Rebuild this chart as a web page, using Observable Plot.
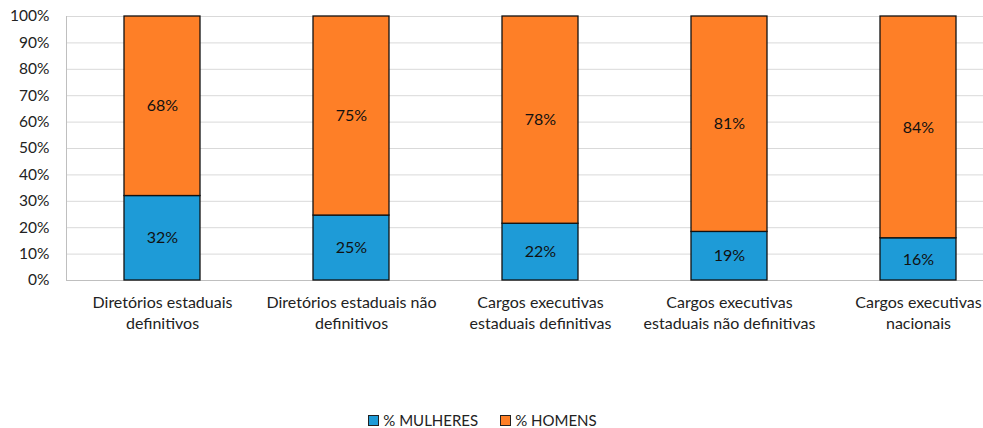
<!DOCTYPE html>
<html>
<head>
<meta charset="utf-8">
<script src="https://cdn.jsdelivr.net/npm/d3@7"></script>
<script src="https://cdn.jsdelivr.net/npm/@observablehq/plot@0.6"></script>
<style>
  html, body { margin: 0; padding: 0; background: #fff; }
  body { width: 983px; height: 428px; overflow: hidden; font-family: Lato, "Open Sans", sans-serif; }
  #legend { display: flex; justify-content: center; align-items: center; gap: 22px; font-size: 15px; color: #222; height: 20px; padding-top: 2px; margin-left: -18px; }
  #legend .item { display: flex; align-items: center; gap: 4px; }
  #legend .sw { width: 11px; height: 11px; border: 1px solid #222; box-sizing: border-box; }
</style>
</head>
<body>
<div id="chart"></div>
<div id="legend"></div>
<script>
// Data
const categories = [
  "Diretórios estaduais\ndefinitivos",
  "Diretórios estaduais não\ndefinitivos",
  "Cargos executivas\nestaduais definitivas",
  "Cargos executivas\nestaduais não definitivas",
  "Cargos executivas\nnacionais"
];
const seriesNames = ["% MULHERES", "% HOMENS"];
const mulheres = [32.0, 24.6, 21.5, 18.4, 16.0];
const homens = [68.0, 75.4, 78.5, 81.6, 84.0];
const mulheresLabels = ["32%", "25%", "22%", "19%", "16%"];
const homensLabels = ["68%", "75%", "78%", "81%", "84%"];
const yTicks = [0, 10, 20, 30, 40, 50, 60, 70, 80, 90, 100];
const colors = ["#1E9BD7", "#FE7F27"];

const rows = [];
categories.forEach((c, i) => rows.push({cat: c, serie: seriesNames[0], value: mulheres[i], label: mulheresLabels[i]}));
categories.forEach((c, i) => rows.push({cat: c, serie: seriesNames[1], value: homens[i], label: homensLabels[i]}));

const chart = Plot.plot({
  width: 983,
  height: 408,
  marginLeft: 66,
  marginRight: 0,
  marginTop: 16,
  marginBottom: 128,
  style: {fontFamily: "Lato, 'Open Sans', sans-serif", fontSize: "16px", color: "#222", background: "#fff"},
  x: {type: "band", domain: categories, range: [66, 1013.5], paddingInner: 0.596, paddingOuter: 0.298, label: null},
  y: {domain: [0, 100], range: [280, 16], label: null},
  color: {domain: seriesNames, range: colors},
  marks: [
    Plot.gridY(yTicks, {stroke: "#d9d9d9", strokeOpacity: 1}),
    Plot.frame({anchor: "left", stroke: "#bfbfbf"}),
    Plot.frame({anchor: "bottom", stroke: "#bfbfbf"}),
    Plot.barY(rows, {x: "cat", y: "value", fill: "serie", stroke: "#111", strokeWidth: 1.3}),
    Plot.text(rows, Plot.stackY({x: "cat", y: "value", z: "serie", text: "label", fill: "#111", fontSize: 16})),
    Plot.axisY(yTicks, {tickSize: 0, tickPadding: 17, tickFormat: d => d + "%", fontSize: 15.5, fill: "#222", label: null}),
    Plot.axisX({tickSize: 0, tickPadding: 13, fontSize: 16, lineHeight: 1.3, fill: "#222", label: null})
  ]
});
document.getElementById("chart").appendChild(chart);

const legend = document.getElementById("legend");
seriesNames.forEach((s, i) => {
  const item = document.createElement("div");
  item.className = "item";
  const sw = document.createElement("div");
  sw.className = "sw";
  sw.style.background = colors[i];
  const t = document.createElement("span");
  t.textContent = s;
  item.appendChild(sw);
  item.appendChild(t);
  legend.appendChild(item);
});
</script>
</body>
</html>
